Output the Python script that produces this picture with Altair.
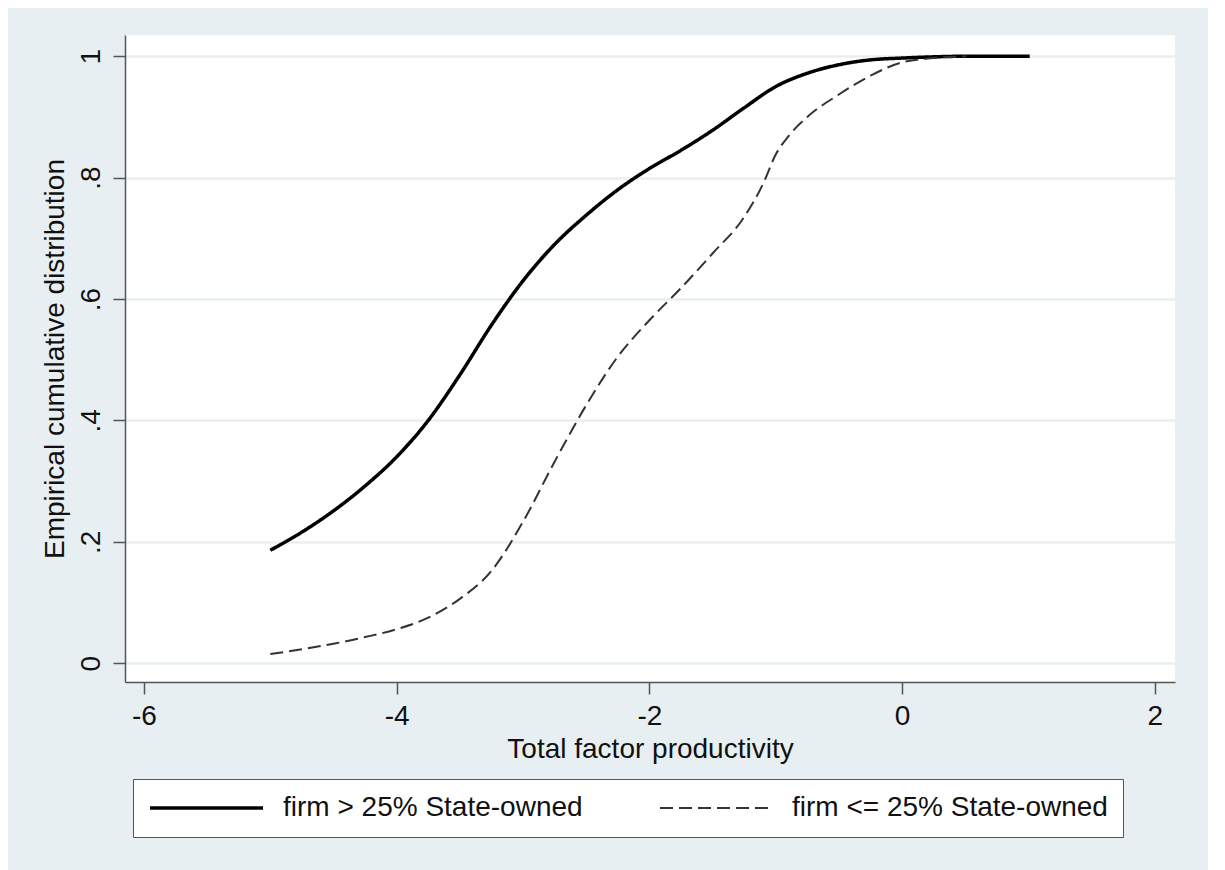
import altair as alt
import pandas as pd

FONT = "Liberation Sans"

# Series: firm > 25% State-owned (solid)
soe_x = [-5.0, -4.75, -4.5, -4.25, -4.0, -3.75, -3.5, -3.25, -3.0, -2.75, -2.5, -2.25,
         -2.0, -1.75, -1.5, -1.25, -1.0, -0.75, -0.5, -0.25, 0.0, 0.25, 0.5, 1.01]
soe_y = [0.186, 0.216, 0.251, 0.292, 0.340, 0.400, 0.475, 0.557, 0.630, 0.690, 0.738, 0.780,
         0.815, 0.845, 0.878, 0.915, 0.950, 0.972, 0.986, 0.994, 0.997, 0.999, 1.0, 1.0]

# Series: firm <= 25% State-owned (dashed)
prv_x = [-5.0, -4.75, -4.5, -4.25, -4.0, -3.75, -3.5, -3.25, -3.0, -2.75, -2.5, -2.25,
         -2.0, -1.75, -1.5, -1.25, -1.1, -1.0, -0.9, -0.75, -0.5, -0.25, 0.0, 0.25, 0.51]
prv_y = [0.015, 0.023, 0.032, 0.043, 0.056, 0.075, 0.106, 0.152, 0.233, 0.332, 0.425, 0.505,
         0.565, 0.618, 0.675, 0.735, 0.790, 0.838, 0.868, 0.900, 0.937, 0.968, 0.990, 0.997, 1.0]

series_names = ["firm > 25% State-owned", "firm <= 25% State-owned"]
x_ticks = [-6, -4, -2, 0, 2]
y_ticks = [0, 0.2, 0.4, 0.6, 0.8, 1.0]

df = pd.concat([
    pd.DataFrame({"tfp": soe_x, "ecdf": soe_y, "group": series_names[0], "ord": range(len(soe_x))}),
    pd.DataFrame({"tfp": prv_x, "ecdf": prv_y, "group": series_names[1], "ord": range(len(prv_x))}),
])

legend = alt.Legend(
    orient="none", legendX=8, legendY=744, direction="horizontal", title=None,
    symbolType="stroke", symbolSize=12769, clipHeight=28, labelLimit=1000,
    labelFont=FONT, labelFontSize=28,
    labelColor="#111111", labelOffset=18, columnPadding=76, padding=15,
    fillColor="white", strokeColor="#555555",
)

chart = alt.Chart(df).mark_line(interpolate="monotone").encode(
    x=alt.X("tfp:Q", scale=alt.Scale(domain=[-6.15, 2.16], nice=False, zero=False),
            axis=alt.Axis(values=x_ticks, grid=False, tickSize=12, labelPadding=8,
                          labelExpr="'' + datum.value",
                          title="Total factor productivity", titlePadding=5)),
    y=alt.Y("ecdf:Q", scale=alt.Scale(domain=[-0.031, 1.035], nice=False, zero=False),
            axis=alt.Axis(values=y_ticks, grid=True, tickSize=12, format=".1~f",
                          labelExpr="replace(datum.label, '0.', '.')",
                          labelAngle=270, labelAlign="center", labelBaseline="bottom",
                          labelPadding=8, title="Empirical cumulative distribution",
                          titlePadding=8)),
    color=alt.Color("group:N", scale=alt.Scale(domain=series_names, range=["#000000", "#333333"]),
                    legend=legend),
    strokeDash=alt.StrokeDash("group:N", scale=alt.Scale(domain=series_names, range=[[1, 0], [13, 6]]),
                              legend=legend),
    strokeWidth=alt.StrokeWidth("group:N", scale=alt.Scale(domain=series_names, range=[3.5, 2.0]),
                                legend=legend),
    order="ord:Q",
).properties(
    width=1050, height=647,
    autosize=alt.AutoSizeParams(type="none"),
    padding={"left": 117, "top": 27, "right": 33, "bottom": 200},
    background="#e8eff2",
).configure_view(
    stroke=None, fill="white"
).configure_axis(
    labelFont=FONT, titleFont=FONT, labelFontSize=28, titleFontSize=28,
    titleFontWeight="normal", labelColor="#111111", titleColor="#111111",
    domainColor="#555555", domainWidth=1.5, tickColor="#555555", tickWidth=1.5,
    gridColor="#e8eff2", gridWidth=2.5,
)

chart.save("out.html", embed_options={"renderer": "svg", "actions": False})
